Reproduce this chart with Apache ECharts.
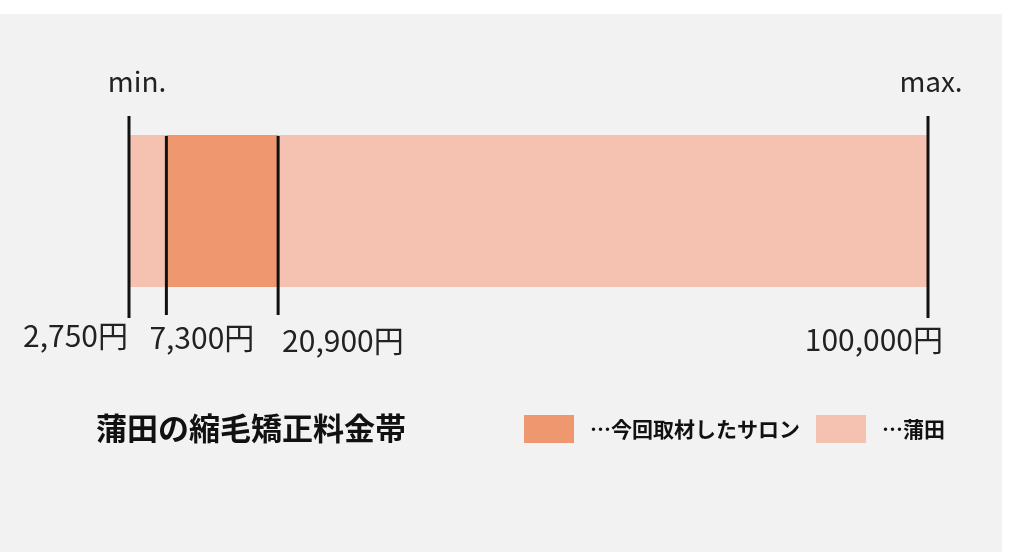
<!DOCTYPE html>
<html>
<head>
<meta charset="utf-8">
<script src="https://cdn.jsdelivr.net/npm/echarts@6/dist/echarts.min.js"></script>
<style>
html,body{margin:0;padding:0;background:#ffffff;}
#chart{width:1024px;height:552px;}
</style>
</head>
<body>
<div id="chart"></div>
<script>
// ---- data ----
var category = ['蒲田'];
var areaName = '…蒲田';
var salonName = '…今回取材したサロン';
var areaRange = [2750, 100000];
var salonRange = [7300, 20900];
var pricePoints = [2750, 7300, 20900, 100000];
var priceLabels = ['2,750円', '7,300円', '20,900円', '100,000円'];
var endLabels = ['min.', '', '', 'max.'];
var titleText = '蒲田の縮毛矯正料金帯';

// ---- layout / style (not data) ----
var lineExtend = [[19, 31], [-1, 28], [-1, 28], [19, 31]]; // [above, below] band
var labelLayout = [
  {align: 'right', dx: -1, dy: 49},
  {align: 'left', dx: -17, dy: 51},
  {align: 'left', dx: 4, dy: 54},
  {align: 'right', dx: 15, dy: 53}
];
var endLayout = [{dx: 8, dy: -54}, null, null, {dx: 3, dy: -54}];
var lightColor = '#f5c2b2';
var darkColor = '#ef9870';
var font = '"Noto Sans CJK JP", "Noto Sans", sans-serif';

function bandItem(color) {
  return function (params, api) {
    var s = api.coord([api.value(0), 0]);
    var e = api.coord([api.value(1), 0]);
    var h = api.size([0, 1])[1];
    return {
      type: 'rect',
      shape: {x: s[0], y: s[1] - h / 2, width: e[0] - s[0], height: h},
      style: {fill: color}
    };
  };
}

var chart = echarts.init(document.getElementById('chart'));
chart.setOption({
  backgroundColor: '#ffffff',
  animation: false,
  graphic: [{
    type: 'rect', z: -10, silent: true,
    shape: {x: 0, y: 14, width: 1002, height: 538},
    style: {fill: '#f2f2f2'}
  }],
  title: {
    text: titleText,
    left: 91, top: 408,
    textStyle: {fontFamily: font, fontSize: 31, fontWeight: 'bold', color: '#111111'}
  },
  legend: {
    data: [salonName, areaName],
    left: 519, top: 410,
    itemWidth: 50, itemHeight: 28, itemGap: 16,
    icon: 'rect',
    selectedMode: false,
    textStyle: {fontFamily: font, fontSize: 21, fontWeight: 'bold', color: '#111111', padding: [0, 0, 0, 11]}
  },
  grid: {left: 129, right: 96, top: 135, bottom: 265},
  xAxis: {
    type: 'value', min: areaRange[0], max: areaRange[1],
    show: false
  },
  yAxis: {
    type: 'category', data: category, show: false,
    boundaryGap: true
  },
  series: [
    {
      name: areaName, type: 'custom',
      itemStyle: {color: lightColor},
      renderItem: bandItem(lightColor),
      encode: {x: [0, 1]},
      data: [[areaRange[0], areaRange[1]]],
      z: 1
    },
    {
      name: salonName, type: 'custom',
      itemStyle: {color: darkColor},
      renderItem: bandItem(darkColor),
      encode: {x: [0, 1]},
      data: [[salonRange[0], salonRange[1]]],
      z: 2
    },
    {
      name: 'lines', type: 'custom', z: 3,
      clip: false,
      renderItem: function (params, api) {
        var i = params.dataIndex;
        var p = api.coord([api.value(0), 0]);
        var h = api.size([0, 1])[1];
        var top = p[1] - h / 2, bot = p[1] + h / 2;
        var ext = lineExtend[i];
        var lay = labelLayout[i];
        var children = [
          {type: 'line', shape: {x1: p[0], y1: top - ext[0], x2: p[0], y2: bot + ext[1]},
           style: {stroke: '#111111', lineWidth: 3}},
          {type: 'text', x: p[0] + lay.dx, y: bot + lay.dy,
           style: {text: priceLabels[i], align: lay.align, verticalAlign: 'middle',
             font: '30px ' + font, fill: '#222222'}}
        ];
        if (endLabels[i]) {
          var el = endLayout[i];
          children.push({type: 'text', x: p[0] + el.dx, y: top + el.dy,
            style: {text: endLabels[i], align: 'center', verticalAlign: 'middle',
              font: '28px ' + font, fill: '#222222'}});
        }
        return {type: 'group', children: children};
      },
      encode: {x: 0},
      data: pricePoints.map(function (v) { return [v]; })
    }
  ]
});
</script>
</body>
</html>
